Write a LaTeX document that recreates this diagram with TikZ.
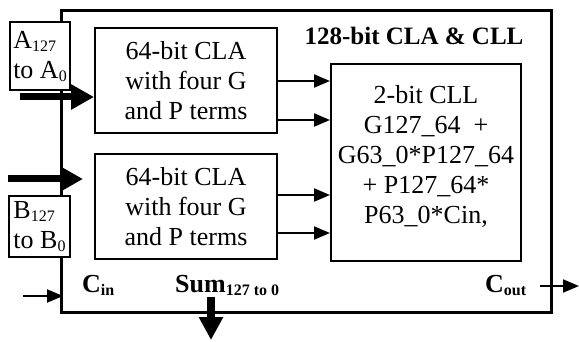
\documentclass[tikz,border=0pt]{standalone}
\usepackage{fontspec}
\setmainfont{Liberation Serif}
\usetikzlibrary{arrows.meta,calc}
% small lowered subscript used in the labels
\newcommand{\lowsub}[1]{\raisebox{-3pt}{\fontsize{16}{16}\selectfont #1}}
\begin{document}
\begin{tikzpicture}[x=1pt,y=-1pt,
  txt/.style={font=\fontsize{26}{30}\selectfont},
  blk/.style={draw, line width=2pt, inner sep=0pt, anchor=north west, align=center, txt},
  lbl/.style={anchor=base west, inner sep=0pt, font=\fontsize{26}{30}\selectfont\bfseries},
  thinarrow/.style={line width=2pt, -{Triangle[length=16pt,width=13pt]}},
  busarrow/.style={line width=7pt, -{Triangle[length=23pt,width=24pt]}}]
\useasboundingbox (0,0) rectangle (579,342);

% enclosing 128-bit unit
\node[draw, line width=3.3pt, inner sep=0pt, anchor=north west,
      minimum width=490pt, minimum height=302pt] (outer) at (60,9) {};
\node[anchor=base, inner sep=0pt, font=\fontsize{25}{30}\selectfont\bfseries]
  (title) at (414,45) {128-bit CLA \& CLL};

% two 64-bit carry-lookahead adders
\node[blk, minimum width=182pt, minimum height=105pt] (cla1) at (94,27)
  {64-bit CLA\\with four G\\and P terms};
\node[blk, minimum width=182pt, minimum height=105pt] (cla2) at (94,153)
  {64-bit CLA\\with four G\\and P terms};

% 2-bit carry-lookahead logic
\node[blk, minimum width=190pt, minimum height=197pt] (cll) at (330,63) {};
\node[anchor=north, align=center, inner sep=0pt, txt] (clltext) at ($(cll.north)+(0,22)$)
  {2-bit CLL\\G127\_64 \ +\\G63\_0*P127\_64\\+ P127\_64*\\P63\_0*Cin,};

% operand labels
\node[blk, fill=white, align=left, minimum width=60pt, minimum height=68pt] (abox) at (9,21)
  {A\lowsub{127}\\to A\lowsub{0}};
\node[blk, fill=white, align=left, minimum width=61pt, minimum height=61pt] (bbox) at (8,195)
  {B\lowsub{127}\\to B\lowsub{0}};

% port labels
\node[lbl] (cin) at (82,292) {C\lowsub{in}};
\node[lbl] (sum) at (175,292) {Sum\lowsub{127 to 0}};
\node[lbl] (cout) at (485,292) {C\lowsub{out}};

% operand buses
\coordinate (ain) at (20,97);
\draw[busarrow] (ain) -- (cla1.west |- ain);
\coordinate (bin) at (8,179);
\coordinate (bend) at (83,179);
\draw[busarrow] (bin) -- (bend);

% G and P terms into the CLL
\coordinate (g1) at ($(cla1.north east)+(0,54)$);
\coordinate (p1) at ($(cla1.north east)+(0,93)$);
\coordinate (g2) at ($(cla2.north east)+(0,42)$);
\coordinate (p2) at ($(cla2.north east)+(0,80)$);
\draw[thinarrow] (g1) -- (cll.west |- g1);
\draw[thinarrow] (p1) -- (cll.west |- p1);
\draw[thinarrow] (g2) -- (cll.west |- g2);
\draw[thinarrow] (p2) -- (cll.west |- p2);

% carry in, carry out, sum out
\coordinate (cinstart) at (23,296);
\coordinate (cinend) at (63,296);
\draw[thinarrow] (cinstart) -- (cinend);
\coordinate (coutstart) at (540,286);
\coordinate (coutend) at (579,286);
\draw[thinarrow] (coutstart) -- (coutend);
\coordinate (sumstart) at (211,297);
\coordinate (sumend) at (211,340);
\draw[line width=8pt, -{Triangle[length=23pt,width=23pt]}] (sumstart) -- (sumend);
\end{tikzpicture}
\end{document}
